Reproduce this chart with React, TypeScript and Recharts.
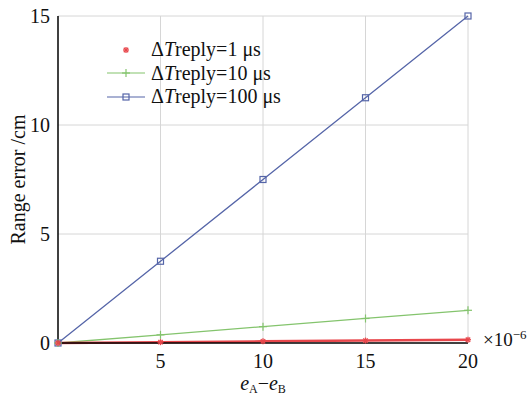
import React from 'react'
import { LineChart, Line, XAxis, YAxis, CartesianGrid, Label } from 'recharts'

const xValues = [0, 5, 10, 15, 20]
const reply1 = [0, 0.0375, 0.075, 0.1125, 0.15]
const reply10 = [0, 0.375, 0.75, 1.125, 1.5]
const reply100 = [0, 3.75, 7.5, 11.25, 15]
const xTicks = [5, 10, 15, 20]
const yTicks = [0, 5, 10, 15]

const data = xValues.map((x, i) => ({ x, r1: reply1[i], r10: reply10[i], r100: reply100[i] }))

const RED = '#e8474c'
const GREEN = '#84c46d'
const BLUE = '#5565a8'
const FONT = '"Liberation Serif", "Times New Roman", serif'

function Star({ cx, cy, color }: any) {
  if (cx == null || cy == null) return null
  return (
    <g stroke={color} strokeWidth={1.3}>
      <line x1={cx - 3} y1={cy} x2={cx + 3} y2={cy} />
      <line x1={cx} y1={cy - 3} x2={cx} y2={cy + 3} />
      <line x1={cx - 2.2} y1={cy - 2.2} x2={cx + 2.2} y2={cy + 2.2} />
      <line x1={cx - 2.2} y1={cy + 2.2} x2={cx + 2.2} y2={cy - 2.2} />
    </g>
  )
}

function Plus({ cx, cy, color }: any) {
  if (cx == null || cy == null) return null
  return (
    <g stroke={color} strokeWidth={1.2}>
      <line x1={cx - 4} y1={cy} x2={cx + 4} y2={cy} />
      <line x1={cx} y1={cy - 4} x2={cx} y2={cy + 4} />
    </g>
  )
}

function Square({ cx, cy, color }: any) {
  if (cx == null || cy == null) return null
  return <rect x={cx - 3} y={cy - 3} width={6} height={6} fill="none" stroke={color} strokeWidth={1.2} />
}

const legendItems = [
  { label: '1 μs', color: RED, line: false, Mark: Star },
  { label: '10 μs', color: GREEN, line: true, Mark: Plus },
  { label: '100 μs', color: BLUE, line: true, Mark: Square },
]

function LegendBox() {
  return (
    <div
      style={{
        position: 'absolute',
        left: 105,
        top: 38,
        fontFamily: FONT,
        fontSize: 20,
        lineHeight: '23.5px',
        color: '#111',
      }}
    >
      {legendItems.map((it) => (
        <div key={it.label} style={{ display: 'flex', alignItems: 'center', height: 23.5 }}>
          <svg width={42} height={22} style={{ marginRight: 4 }}>
            {it.line && <line x1={2} y1={11} x2={40} y2={11} stroke={it.color} strokeWidth={1.2} />}
            <it.Mark cx={21} cy={11} color={it.color} />
          </svg>
          <span style={{ whiteSpace: 'nowrap' }}>
            Δ<i>T</i>reply={it.label}
          </span>
        </div>
      ))}
    </div>
  )
}

function XLabel({ viewBox }: any) {
  const { x, y, width } = viewBox
  return (
    <g fontFamily={FONT} fill="#111">
      <text x={x + width / 2} y={y + 47} textAnchor="middle" fontSize={20}>
        <tspan fontStyle="italic">e</tspan>
        <tspan fontSize={12} dy={3}>A</tspan>
        <tspan dy={-3}>−</tspan>
        <tspan fontStyle="italic">e</tspan>
        <tspan fontSize={12} dy={3}>B</tspan>
      </text>
      <text x={x + width + 15} y={y + 3} fontSize={19}>
        ×10
        <tspan fontSize={13} dy={-7}>−6</tspan>
      </text>
    </g>
  )
}

function YLabel({ viewBox }: any) {
  const { y, height } = viewBox
  const cy = y + height / 2
  return (
    <text
      x={25}
      y={cy}
      transform={`rotate(-90 25 ${cy})`}
      textAnchor="middle"
      fontFamily={FONT}
      fontSize={20}
      fill="#111"
    >
      Range error /cm
    </text>
  )
}

export default function App() {
  return (
    <div style={{ position: 'absolute', left: 0, top: 0, width: 530, height: 399, background: '#fff' }}>
      <LineChart width={530} height={399} data={data} margin={{ top: 16, right: 62, bottom: 0, left: 0 }}>
        <CartesianGrid stroke="#d6d6d6" strokeWidth={1} horizontalValues={[5, 10, 15]} verticalValues={xTicks} />
        <XAxis
          dataKey="x"
          type="number"
          domain={[0, 20]}
          ticks={xTicks}
          height={56}
          tickLine={false}
          axisLine={{ stroke: '#000', strokeWidth: 1.5 }}
          tick={{ fill: '#111', fontSize: 20, fontFamily: FONT }}
          tickMargin={5}
        >
          <Label content={<XLabel />} />
        </XAxis>
        <YAxis
          type="number"
          domain={[0, 15]}
          ticks={yTicks}
          width={58}
          tickLine={false}
          axisLine={{ stroke: '#000', strokeWidth: 1.5 }}
          tick={{ fill: '#111', fontSize: 20, fontFamily: FONT }}
          tickMargin={2}
        >
          <Label content={<YLabel />} />
        </YAxis>
        <Line
          dataKey="r100"
          stroke={BLUE}
          strokeWidth={1.3}
          dot={<Square color={BLUE} />}
          isAnimationActive={false}
        />
        <Line
          dataKey="r10"
          stroke={GREEN}
          strokeWidth={1.3}
          dot={<Plus color={GREEN} />}
          isAnimationActive={false}
        />
        <Line
          dataKey="r1"
          stroke={RED}
          strokeWidth={2.5}
          dot={<Star color={RED} />}
          isAnimationActive={false}
        />
      </LineChart>
      <LegendBox />
    </div>
  )
}
